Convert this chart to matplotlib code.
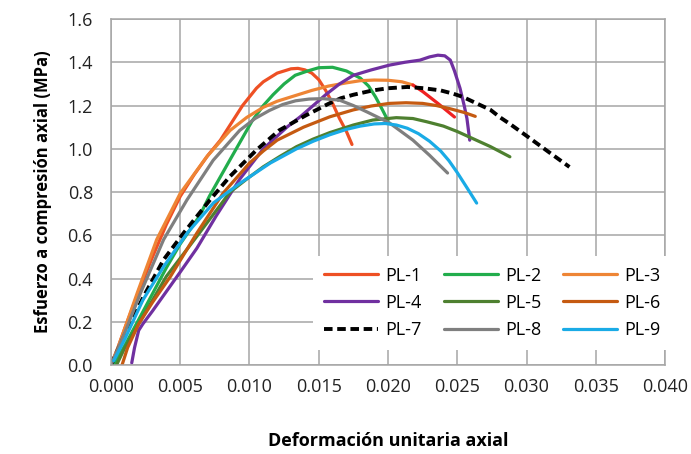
import matplotlib
matplotlib.use("Agg")
import matplotlib.pyplot as plt

plt.rcParams['font.family'] = ['Open Sans', 'DejaVu Sans']

series_names = ["PL-1", "PL-2", "PL-3", "PL-4", "PL-5", "PL-6", "PL-7", "PL-8", "PL-9"]

pl1_x = [0, 0.0005, 0.001, 0.002, 0.003, 0.004, 0.005, 0.006, 0.007, 0.0079, 0.0085, 0.009, 0.0095, 0.010, 0.0105, 0.011, 0.0115, 0.012, 0.0125, 0.013, 0.0135, 0.014, 0.0145, 0.015, 0.0155, 0.016, 0.0165, 0.017, 0.0174]
pl1_y = [0, 0.08, 0.17, 0.34, 0.50, 0.65, 0.78, 0.88, 0.97, 1.04, 1.10, 1.15, 1.20, 1.24, 1.28, 1.31, 1.33, 1.35, 1.36, 1.37, 1.372, 1.365, 1.35, 1.32, 1.27, 1.21, 1.14, 1.08, 1.02]

pl2_x = [0.0002, 0.001, 0.002, 0.003, 0.004, 0.005, 0.0064, 0.0071, 0.0086, 0.0094, 0.0102, 0.0110, 0.0117, 0.0125, 0.0133, 0.0142, 0.0150, 0.0160, 0.0170, 0.0180, 0.0186, 0.0191, 0.0196, 0.0200]
pl2_y = [0.0, 0.09, 0.21, 0.33, 0.45, 0.56, 0.69, 0.78, 0.95, 1.04, 1.13, 1.20, 1.25, 1.30, 1.34, 1.36, 1.375, 1.377, 1.36, 1.327, 1.29, 1.24, 1.18, 1.13]

pl3_x = [0, 0.0005, 0.001, 0.0019, 0.0033, 0.005, 0.0069, 0.0086, 0.0098, 0.0110, 0.012, 0.0133, 0.0145, 0.0157, 0.0170, 0.018, 0.019, 0.020, 0.021, 0.0218, 0.0225, 0.0236, 0.0248]
pl3_y = [0, 0.08, 0.17, 0.334, 0.58, 0.794, 0.962, 1.085, 1.145, 1.192, 1.22, 1.246, 1.27, 1.29, 1.305, 1.315, 1.318, 1.317, 1.31, 1.295, 1.265, 1.21, 1.147]
pl3_tail_start = 19

pl4_x = [0.0015, 0.0017, 0.0020, 0.0023, 0.0030, 0.0040, 0.0050, 0.0062, 0.0076, 0.0093, 0.0110, 0.0127, 0.0137, 0.0146, 0.0155, 0.0165, 0.0175, 0.0188, 0.0201, 0.0212, 0.0223, 0.0230, 0.0236, 0.0241, 0.0245, 0.0248, 0.0252, 0.0255, 0.0257, 0.0259]
pl4_y = [0.01, 0.08, 0.16, 0.19, 0.25, 0.34, 0.43, 0.54, 0.69, 0.86, 1.00, 1.10, 1.15, 1.20, 1.25, 1.30, 1.34, 1.365, 1.387, 1.40, 1.41, 1.425, 1.433, 1.43, 1.41, 1.36, 1.28, 1.20, 1.14, 1.04]

pl5_x = [0.0004, 0.001, 0.002, 0.004, 0.0062, 0.0086, 0.0098, 0.011, 0.0122, 0.0134, 0.0146, 0.0158, 0.0175, 0.0189, 0.0206, 0.0218, 0.0228, 0.024, 0.025, 0.0262, 0.0274, 0.0288]
pl5_y = [0.0, 0.08, 0.19, 0.41, 0.595, 0.80, 0.86, 0.917, 0.965, 1.01, 1.045, 1.075, 1.11, 1.133, 1.144, 1.14, 1.125, 1.105, 1.08, 1.045, 1.01, 0.963]

pl6_x = [0.0008, 0.0012, 0.002, 0.003, 0.0043, 0.0062, 0.0081, 0.0100, 0.011, 0.012, 0.0139, 0.0158, 0.0175, 0.0188, 0.0201, 0.0213, 0.0225, 0.0235, 0.0245, 0.0255, 0.0263]
pl6_y = [0.0, 0.08, 0.19, 0.29, 0.41, 0.61, 0.795, 0.934, 0.99, 1.04, 1.10, 1.148, 1.18, 1.198, 1.21, 1.213, 1.21, 1.20, 1.185, 1.168, 1.15]

pl7_x = [0.0, 0.001, 0.00238, 0.0038, 0.00524, 0.00714, 0.00857, 0.01048, 0.01214, 0.01405, 0.0157, 0.0166, 0.0175, 0.0189, 0.0200, 0.0214, 0.0226, 0.0238, 0.0247, 0.0254, 0.0264, 0.0274, 0.0281, 0.0288, 0.0300, 0.0315, 0.0331]
pl7_y = [0.0, 0.14, 0.32, 0.487, 0.61, 0.763, 0.871, 0.993, 1.085, 1.154, 1.208, 1.234, 1.25, 1.27, 1.28, 1.286, 1.28, 1.27, 1.255, 1.24, 1.21, 1.18, 1.145, 1.115, 1.06, 0.99, 0.916]

pl8_x = [0.0, 0.001, 0.00214, 0.0038, 0.00548, 0.00738, 0.00929, 0.0104, 0.01143, 0.0124, 0.01333, 0.0143, 0.0153, 0.0165, 0.0175, 0.0185, 0.0201, 0.0218, 0.0230, 0.0243]
pl8_y = [0.0, 0.15, 0.334, 0.58, 0.763, 0.947, 1.085, 1.14, 1.177, 1.205, 1.222, 1.23, 1.232, 1.225, 1.20, 1.17, 1.12, 1.04, 0.97, 0.888]

pl9_x = [0.0002, 0.001, 0.0023, 0.0038, 0.0055, 0.0074, 0.0093, 0.0115, 0.0134, 0.0146, 0.0158, 0.017, 0.018, 0.019, 0.0198, 0.0206, 0.0214, 0.0222, 0.023, 0.0238, 0.0244, 0.025, 0.0257, 0.0264]
pl9_y = [0.02, 0.12, 0.30, 0.455, 0.61, 0.75, 0.84, 0.934, 1.0, 1.035, 1.065, 1.09, 1.105, 1.115, 1.117, 1.11, 1.095, 1.07, 1.035, 0.99, 0.945, 0.89, 0.82, 0.749]

x_ticks = [0.000, 0.005, 0.010, 0.015, 0.020, 0.025, 0.030, 0.035, 0.040]
y_ticks = [0.0, 0.2, 0.4, 0.6, 0.8, 1.0, 1.2, 1.4, 1.6]

colors = ["#EE5024", "#22AD4C", "#EE8535", "#7030A0", "#4E8030", "#C55A11", "#000000", "#7F7F7F", "#1AABE6"]
tail_color = "#F02222"

fig = plt.figure(figsize=(6.91, 4.54), dpi=100)
ax = fig.add_axes([0.1606, 0.196, 0.8018, 0.762])

lw = 2.3
data = [(pl1_x, pl1_y), (pl2_x, pl2_y), (pl3_x[:pl3_tail_start + 1], pl3_y[:pl3_tail_start + 1]),
        (pl4_x, pl4_y), (pl5_x, pl5_y), (pl6_x, pl6_y), (pl7_x, pl7_y), (pl8_x, pl8_y), (pl9_x, pl9_y)]
handles = []
for i, (xs, ys) in enumerate(data):
    if series_names[i] == "PL-7":
        h, = ax.plot(xs, ys, color=colors[i], lw=2.8, ls=(0, (2.2, 1.2)), label=series_names[i])
    else:
        h, = ax.plot(xs, ys, color=colors[i], lw=lw, label=series_names[i],
                     solid_capstyle='round', solid_joinstyle='round')
    handles.append(h)
    if series_names[i] == "PL-3":
        ax.plot(pl3_x[pl3_tail_start:], pl3_y[pl3_tail_start:], color=tail_color, lw=lw,
                solid_capstyle='round', solid_joinstyle='round')

ax.set_xlim(0, 0.040)
ax.set_ylim(0, 1.6)
ax.set_xticks(x_ticks)
ax.set_yticks(y_ticks)
ax.set_xticklabels([f"{v:.3f}" for v in x_ticks])
ax.set_yticklabels([f"{v:.1f}" for v in y_ticks])
ax.grid(True, color="#A6A6A6", lw=1.1)
ax.set_axisbelow(True)
for s in ax.spines.values():
    s.set_color("#A6A6A6")
    s.set_linewidth(1.1)
ax.tick_params(length=0, labelsize=13, colors="#222222")
ax.tick_params(axis='y', pad=13)
ax.tick_params(axis='x', pad=9)

ax.set_xlabel("Deformación unitaria axial", fontsize=13, fontweight='bold', labelpad=26)
ax.set_ylabel("Esfuerzo a compresión axial (MPa)", fontsize=12, fontweight='bold', labelpad=11)

# row-major legend order (matplotlib fills column by column)
order = [0, 3, 6, 1, 4, 7, 2, 5, 8]
leg = ax.legend(handles=[handles[k] for k in order], ncol=3, loc='center', bbox_to_anchor=(0.7127, 0.333),
                bbox_transform=fig.transFigure, fontsize=13, frameon=True, framealpha=1,
                facecolor='white', edgecolor='none', handlelength=3.0, handletextpad=0.4,
                columnspacing=1.2, labelspacing=0.5, borderpad=0.6, fancybox=False)

fig.savefig("out.png", dpi=100)
